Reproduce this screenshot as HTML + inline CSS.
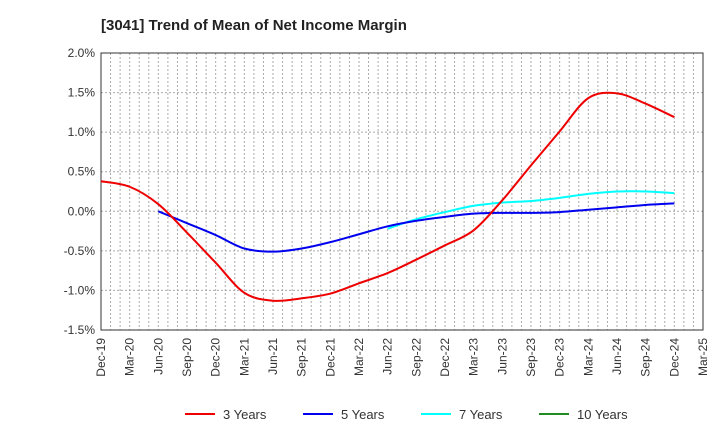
<!DOCTYPE html>
<html><head><meta charset="utf-8"><style>
body{margin:0;background:#fff;font-family:"Liberation Sans",sans-serif}
</style></head><body>
<svg id="c" width="720" height="440" xmlns="http://www.w3.org/2000/svg" font-family="Liberation Sans, sans-serif">
<text x="101" y="30" font-size="15" font-weight="bold" fill="#222">[3041]  Trend of Mean of Net Income Margin</text>
<g id="grid"></g><g id="axes"></g><g id="series"></g>
<g id="legend"></g>
</svg>
<script>
const xLabels=["Dec-19","Mar-20","Jun-20","Sep-20","Dec-20","Mar-21","Jun-21","Sep-21","Dec-21","Mar-22","Jun-22","Sep-22","Dec-22","Mar-23","Jun-23","Sep-23","Dec-23","Mar-24","Jun-24","Sep-24","Dec-24","Mar-25"];
const yTicks=[2.0,1.5,1.0,0.5,0.0,-0.5,-1.0,-1.5];
const s3=[0.38,0.31,0.09,-0.27,-0.65,-1.03,-1.13,-1.10,-1.04,-0.91,-0.78,-0.61,-0.43,-0.24,0.14,0.58,1.01,1.43,1.49,1.36,1.19];
const s5=[null,null,0.0,-0.15,-0.30,-0.47,-0.51,-0.47,-0.39,-0.29,-0.19,-0.12,-0.07,-0.03,-0.02,-0.02,-0.01,0.02,0.05,0.08,0.10];
const s7=[null,null,null,null,null,null,null,null,null,null,-0.22,-0.10,-0.01,0.07,0.11,0.13,0.17,0.22,0.25,0.25,0.23];
const s10=[];
const NS="http://www.w3.org/2000/svg";
const L=101,R=703,T=53,B=330;
const x=i=>L+i*(R-L)/21;
const y=v=>T+(2-v)/3.5*(B-T);
function el(p,t,a){const e=document.createElementNS(NS,t);for(const k in a)e.setAttribute(k,a[k]);document.getElementById(p).appendChild(e);return e;}
for(let m=1;m<63;m++){const xx=L+m*(R-L)/63;
const g=el('grid','line',{x1:xx,x2:xx,y1:T,y2:B,stroke:'#aaa','stroke-dasharray':'2,2','stroke-width':1});

}
yTicks.forEach(v=>{
const g=el('grid','line',{x1:L,x2:R,y1:y(v),y2:y(v),stroke:'#aaa','stroke-dasharray':'2,2','stroke-width':1});


const t=el('axes','text',{x:L-6,y:y(v)+4,'text-anchor':'end','font-size':12,fill:'#333'});
t.textContent=v.toFixed(1)+'%';

});
const fr=el('axes','rect',{x:L,y:T,width:R-L,height:B-T,fill:'none',stroke:'#333','stroke-width':1});


xLabels.forEach((lb,i)=>{
const t=el('axes','text',{transform:`translate(${x(i)+4},${B+8}) rotate(-90)`,'text-anchor':'end','font-size':12,fill:'#333'});
t.textContent=lb;

});
function path(arr){const pts=[];arr.forEach((v,i)=>{if(v!==null&&v!==undefined)pts.push([x(i),y(v)]);});
if(pts.length<2)return '';let d=`M${pts[0][0]},${pts[0][1]}`;
for(let i=0;i<pts.length-1;i++){const p0=pts[i-1]||pts[i],p1=pts[i],p2=pts[i+1],p3=pts[i+2]||p2;
d+=` C${p1[0]+(p2[0]-p0[0])/6},${p1[1]+(p2[1]-p0[1])/6} ${p2[0]-(p3[0]-p1[0])/6},${p2[1]-(p3[1]-p1[1])/6} ${p2[0]},${p2[1]}`;}return d;}
[[s10,'#228B22','series-10-years'],[s7,'#00FFFF','series-7-years'],[s5,'#0000EE','series-5-years'],[s3,'#EE0000','series-3-years']].forEach(([a,c,n])=>{
const d=path(a);if(!d)return;
const p=el('series','path',{d:d,fill:'none',stroke:c,'stroke-width':2});

});
[['3 Years','#EE0000',185],['5 Years','#0000EE',303],['7 Years','#00FFFF',421],['10 Years','#228B22',539]].forEach(([lb,c,lx])=>{
const l=el('legend','line',{x1:lx,x2:lx+30,y1:414,y2:414,stroke:c,'stroke-width':2});


const t=el('legend','text',{x:lx+38,y:419,'font-size':13,fill:'#333'});
t.textContent=lb;

});
</script>
</body></html>
